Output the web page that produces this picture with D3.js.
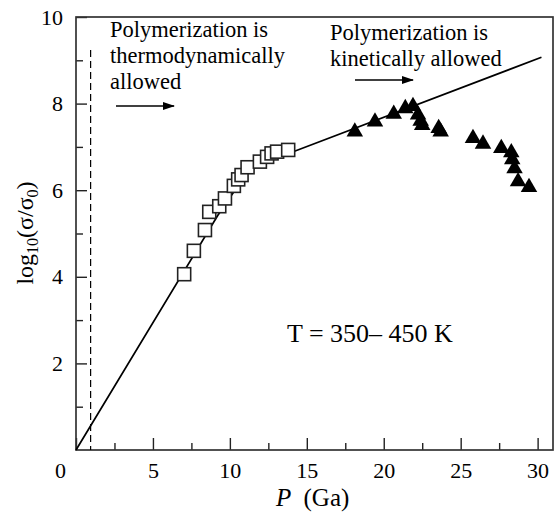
<!DOCTYPE html>
<html>
<head>
<meta charset="utf-8">
<script src="https://d3js.org/d3.v7.min.js"></script>
<style>
  body { margin: 0; background: #fff; }
  text { font-family: "Liberation Serif", "Times New Roman", serif; fill: #000; }
</style>
</head>
<body>
<svg id="svgMain" width="555" height="517"></svg>
<script>
    // data
    const squaresP = [7.03, 7.66, 8.38, 8.66, 9.31, 9.68, 10.26, 10.54, 10.76, 11.15, 11.95, 12.42, 12.71, 13.07, 13.79];
    const squaresLog = [4.06, 4.60, 5.08, 5.50, 5.63, 5.81, 6.10, 6.25, 6.35, 6.53, 6.66, 6.77, 6.85, 6.89, 6.93];

    const trianglesP = [18.12, 19.43, 20.65, 21.40, 21.90, 22.23, 22.40, 22.50, 23.57, 23.70, 25.80, 26.45, 27.64, 28.29, 28.35, 28.50, 28.73, 29.44];
    const trianglesLog = [7.35, 7.58, 7.76, 7.89, 7.94, 7.74, 7.60, 7.50, 7.43, 7.35, 7.20, 7.07, 6.97, 6.87, 6.71, 6.50, 6.20, 6.07];

    const fitP = [0, 9.2, 11.0, 12.5, 14.2, 30.25];
    const fitLog = [0, 5.41, 6.35, 6.75, 6.90, 9.07];

    const boundaryP = 0.95;
    const boundaryTop = 9.24;

    const xTicks = [0, 5, 10, 15, 20, 25, 30];
    const xMinor = [2.5, 7.5, 12.5, 17.5, 22.5, 27.5];
    const yTicks = [2, 4, 6, 8, 10];
    const yMinor = [1, 3, 5, 7, 9];

    const svg = d3.select("#svgMain");
    const plotLeft = 76, plotRight = 553, plotTop = 17, plotBottom = 450;

    const x = d3.scaleLinear().domain([0, 31]).range([plotLeft, plotRight]);
    const y = d3.scaleLinear().domain([0, 10]).range([plotBottom, plotTop]);

    // axes with inward ticks
    const xAxisG = svg.append("g").attr("transform", "translate(0," + plotBottom + ")")
        .call(d3.axisBottom(x).tickValues(xTicks).tickSize(-12).tickPadding(12).tickFormat(d3.format("d")));
    svg.append("g").attr("transform", "translate(0," + plotBottom + ")")
        .call(d3.axisBottom(x).tickValues(xMinor).tickSize(-7).tickFormat(""));

    svg.append("g").attr("transform", "translate(" + plotLeft + ",0)")
        .call(d3.axisLeft(y).tickValues(yTicks).tickSize(-11).tickPadding(13).tickFormat(d3.format("d")));
    svg.append("g").attr("transform", "translate(" + plotLeft + ",0)")
        .call(d3.axisLeft(y).tickValues(yMinor).tickSize(-7).tickFormat(""));

    svg.selectAll(".domain").remove();
    svg.selectAll(".tick line").attr("stroke", "#222").attr("stroke-width", 1.4);
    svg.selectAll(".tick text").attr("font-size", 22).attr("font-family", "Liberation Serif").attr("fill", "#000");
    // the 0 label sits left of the corner
    xAxisG.selectAll(".tick text").filter(d => d === 0).attr("x", -16);

    // frame
    svg.append("rect")
        .attr("x", plotLeft).attr("y", plotTop)
        .attr("width", plotRight - plotLeft).attr("height", plotBottom - plotTop)
        .attr("fill", "none").attr("stroke", "#333").attr("stroke-width", 1.7);

    // dashed boundary
    svg.append("line")
        .attr("x1", x(boundaryP)).attr("x2", x(boundaryP))
        .attr("y1", y(boundaryTop)).attr("y2", y(0))
        .attr("stroke", "#000").attr("stroke-width", 1.2)
        .attr("stroke-dasharray", "7,4");

    // fit line
    const fitLine = d3.line().x(d => x(d[0])).y(d => y(d[1]));
    svg.append("path")
        .attr("d", fitLine(fitP.map((p, i) => [p, fitLog[i]])))
        .attr("fill", "none").attr("stroke", "#000").attr("stroke-width", 1.7);

    // open squares
    const sq = 13;
    svg.append("g").selectAll("rect")
        .data(squaresP.map((p, i) => [p, squaresLog[i]]))
        .join("rect")
        .attr("x", d => x(d[0]) - sq / 2)
        .attr("y", d => y(d[1]) - sq / 2)
        .attr("width", sq).attr("height", sq)
        .attr("fill", "#fff").attr("stroke", "#222").attr("stroke-width", 1.6);

    // filled triangles
    const tri = d3.symbol().type(d3.symbolTriangle).size(118);
    svg.append("g").selectAll("path")
        .data(trianglesP.map((p, i) => [p, trianglesLog[i]]))
        .join("path")
        .attr("d", tri)
        .attr("transform", d => "translate(" + x(d[0]) + "," + y(d[1]) + ")")
        .attr("fill", "#000");

    // arrow marker
    svg.append("defs").append("marker")
        .attr("id", "arrow")
        .attr("viewBox", "0 0 12 8")
        .attr("refX", 11).attr("refY", 4)
        .attr("markerWidth", 13).attr("markerHeight", 8)
        .attr("markerUnits", "userSpaceOnUse")
        .attr("orient", "auto")
        .append("path")
        .attr("d", "M0,0 L12,4 L0,8 Z")
        .attr("fill", "#000");

    // annotations
    const note1 = svg.append("text").attr("font-size", 22.5);
    ["Polymerization is", "thermodynamically", "allowed"].forEach((s, i) => {
        note1.append("tspan").attr("x", 110).attr("y", 37 + i * 26).text(s);
    });
    svg.append("line")
        .attr("x1", 116).attr("x2", 174).attr("y1", 106).attr("y2", 106)
        .attr("stroke", "#000").attr("stroke-width", 1.5)
        .attr("marker-end", "url(#arrow)");

    const note2 = svg.append("text").attr("font-size", 22.5);
    ["Polymerization is", "kinetically allowed"].forEach((s, i) => {
        note2.append("tspan").attr("x", 330).attr("y", 40 + i * 26).text(s);
    });
    svg.append("line")
        .attr("x1", 355).attr("x2", 413).attr("y1", 80).attr("y2", 80)
        .attr("stroke", "#000").attr("stroke-width", 1.5)
        .attr("marker-end", "url(#arrow)");

    svg.append("text")
        .attr("x", 287).attr("y", 342)
        .attr("font-size", 26)
        .text("T = 350\u2013 450 K");

    // axis titles
    const xTitle = svg.append("text")
        .attr("x", 276).attr("y", 506)
        .attr("font-size", 25);
    xTitle.append("tspan").attr("font-style", "italic").text("P");
    xTitle.append("tspan").attr("dx", 6).text(" (Ga)");

    const yTitle = svg.append("text")
        .attr("transform", "translate(33,233) rotate(-90)")
        .attr("text-anchor", "middle")
        .attr("font-size", 24);
    yTitle.append("tspan").text("log");
    yTitle.append("tspan").attr("font-size", 16).attr("dy", 5).text("10");
    yTitle.append("tspan").attr("dy", -5).text("(\u03c3/\u03c3");
    yTitle.append("tspan").attr("font-size", 16).attr("dy", 5).text("0");
    yTitle.append("tspan").attr("dy", -5).text(")");
</script>
</body>
</html>
